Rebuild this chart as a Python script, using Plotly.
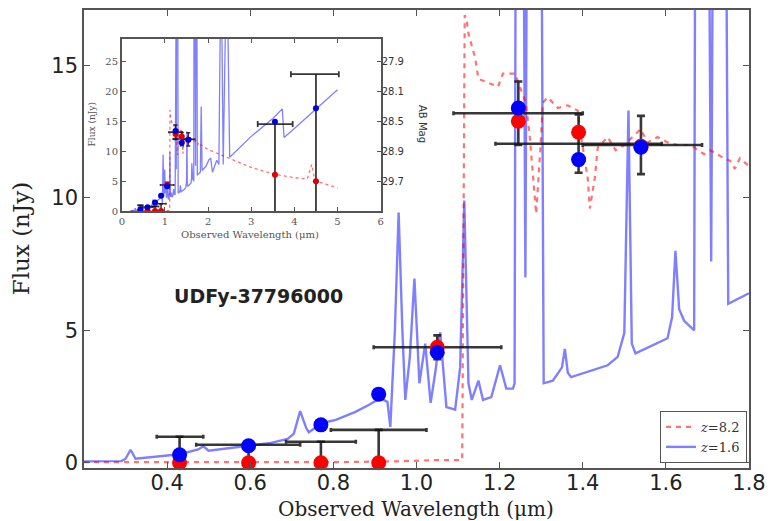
import plotly.graph_objects as go

# ---------------- data ----------------
# z=1.6 model spectrum (main panel, 0.2-1.8 um)
spec16_x = [0.20, 0.29, 0.30, 0.312, 0.324, 0.36, 0.40, 0.43, 0.475, 0.487, 0.50, 0.55, 0.59, 0.65,
            0.69, 0.705, 0.72, 0.735, 0.741, 0.773, 0.806, 0.853, 0.885, 0.913, 0.930, 0.937, 0.948,
            0.957, 0.966, 0.973, 0.984, 0.995, 1.007, 1.021, 1.034, 1.046, 1.057, 1.072, 1.093, 1.105,
            1.115, 1.125, 1.133, 1.149, 1.160, 1.180, 1.201, 1.216, 1.232, 1.236, 1.240, 1.255, 1.262,
            1.268, 1.298, 1.306, 1.328, 1.350, 1.357, 1.364, 1.372, 1.460, 1.484, 1.500, 1.510, 1.518,
            1.527, 1.604, 1.615, 1.623, 1.632, 1.644, 1.668, 1.672, 1.700, 1.709, 1.716, 1.742, 1.750,
            1.800]
spec16_y = [0.05, 0.06, 0.15, 0.49, 0.15, 0.20, 0.27, 0.32, 0.50, 0.62, 0.45, 0.55, 0.64, 0.75,
            0.90, 1.10, 1.95, 1.30, 1.15, 1.50, 1.62, 1.92, 2.18, 2.44, 2.30, 1.35, 5.0,
            9.45, 5.0, 2.37, 4.0, 6.96, 3.0, 4.5, 2.26, 3.5, 4.92, 2.1, 2.0, 3.6,
            9.9, 3.0, 2.37, 3.1, 2.37, 2.48, 3.68, 2.8, 2.8, 3.0, 30, 30, 7.0,
            30, 30, 3.0, 3.1, 3.6, 4.3, 3.4, 3.23, 3.68, 4.0, 4.9, 13.3, 4.5,
            4.13, 4.7, 5.5, 8.0, 5.8, 5.36, 5.0, 30, 30, 7.6, 30, 30, 6.0,
            6.4]
# z=1.6 spectrum continued beyond 1.8 um (inset only)
spec16_ext_x = [1.82, 1.84, 1.86, 1.95, 2.02, 2.06, 2.10, 2.20, 2.25, 2.28, 2.32, 2.35, 2.40, 2.46,
                2.50, 3.00, 3.50, 3.72, 3.76, 4.00, 4.50, 5.00]
spec16_ext_y = [6.5, 17.5, 6.8, 7.5, 8.6, 8.8, 6.5, 8.5, 7.8, 30, 30, 7.8, 30, 30,
                9.0, 12.5, 15.5, 17.1, 12.3, 13.8, 17.0, 20.3]

# z=8.2 model spectrum
spec82_x = [0.20, 0.80, 0.95, 1.00, 1.05, 1.110, 1.116, 1.120, 1.125, 1.141, 1.149, 1.165, 1.196,
            1.208, 1.237, 1.251, 1.263, 1.272, 1.288, 1.299, 1.304, 1.316, 1.340, 1.364, 1.388,
            1.395, 1.412, 1.417, 1.429, 1.436, 1.460, 1.479, 1.500, 1.539, 1.556, 1.580, 1.604,
            1.628, 1.659, 1.692, 1.707, 1.740, 1.755, 1.766, 1.778, 1.800]
spec82_y = [0.02, 0.02, 0.05, 0.08, 0.10, 0.10, 16.9, 16.8, 16.2, 15.3, 14.5, 14.4, 14.2,
            14.7, 14.7, 14.1, 13.6, 12.4, 9.4, 12.1, 13.6, 13.8, 13.4, 13.5, 13.3,
            12.4, 10.75, 9.6, 10.75, 11.9, 12.3, 11.8, 12.0, 12.6, 12.1, 12.3, 12.1,
            12.0, 12.0, 11.65, 11.8, 11.5, 11.4, 11.1, 11.5, 11.2]
spec82_ext_x = [2.00, 2.50, 3.00, 3.57, 4.00, 4.30, 4.40, 4.45, 4.50, 5.00]
spec82_ext_y = [10.3, 8.8, 7.3, 6.1, 5.6, 5.4, 7.8, 6.0, 5.0, 3.9]

# observed photometry (filters)
obs_x = [0.43, 0.596, 0.77, 0.909, 1.05, 1.245, 1.39, 1.54]
obs_xlo = [0.055, 0.126, 0.084, 0.115, 0.153, 0.156, 0.20, 0.14]
obs_xhi = [0.057, 0.124, 0.084, 0.115, 0.154, 0.155, 0.20, 0.147]
obs_y = [0.98, 0.68, 0.79, 1.24, 4.36, 13.2, 12.05, 12.0]
obs_eup = [0.0, 0.0, 0.0, 0.0, 0.45, 1.2, 1.1, 1.1]
obs_elo = [0.98, 0.68, 0.79, 1.24, 0.45, 1.2, 1.1, 1.1]

# IRAC points (inset only)
irac_x = [3.55, 4.5]
irac_xlo = [0.40, 0.58]
irac_xhi = [0.41, 0.53]
irac_y = [14.55, 22.9]

# model photometry
mod_x = [0.43, 0.596, 0.77, 0.909, 1.05, 1.245, 1.39, 1.54]
mod16_y = [0.30, 0.64, 1.43, 2.59, 4.17, 13.4, 11.45, 11.92]
mod82_y = [0.0, 0.0, 0.0, 0.0, 4.36, 12.9, 12.48, 11.95]
irac16_y = [14.95, 17.2]
irac82_y = [6.1, 5.0]

# inset right-axis (AB magnitude) labels
ab_flux = [25, 20, 15, 10, 5]
ab_labels = ["27.9", "28.1", "28.5", "28.9", "29.7"]

main_xticks = [0.4, 0.6, 0.8, 1.0, 1.2, 1.4, 1.6, 1.8]
main_yticks = [0, 5, 10, 15]
inset_xticks = [0, 1, 2, 3, 4, 5, 6]
inset_yticks = [0, 5, 10, 15, 20, 25]

# ---------------- layout helpers ----------------
W, H = 774, 521
L, R, T, B = 84, 22, 8, 53
PW, PH = W - L - R, H - T - B


def px(x):
    return (x - L) / PW


def py(y):
    return (H - B - y) / PH


BLUE_LINE = "rgba(0,0,255,0.5)"
RED_LINE = "rgba(255,0,0,0.55)"
BAR = "rgba(20,20,20,0.85)"
SERIF = "DejaVu Serif"
SANS = "DejaVu Sans"

fig = go.Figure()

# ---------- main panel ----------
fig.add_trace(go.Scatter(x=spec16_x, y=spec16_y, mode="lines", name="<i>z</i>=1.6",
                         line=dict(color=BLUE_LINE, width=2.4), legendrank=2))
fig.add_trace(go.Scatter(x=spec82_x, y=spec82_y, mode="lines", name="<i>z</i>=8.2",
                         line=dict(color=RED_LINE, width=2.2, dash="5px,5px"), legendrank=1))
fig.add_trace(go.Scatter(
    x=obs_x, y=obs_y, mode="markers", showlegend=False,
    marker=dict(size=2, color="rgba(0,0,0,0)"),
    error_x=dict(type="data", symmetric=False, array=obs_xhi, arrayminus=obs_xlo,
                 color=BAR, thickness=2.6, width=2),
    error_y=dict(type="data", symmetric=False, array=obs_eup, arrayminus=obs_elo,
                 color=BAR, thickness=2.6, width=4)))
fig.add_trace(go.Scatter(x=mod_x, y=mod82_y, mode="markers", showlegend=False,
                         marker=dict(size=15, color="#ff0000"), cliponaxis=False))
fig.add_trace(go.Scatter(x=mod_x, y=mod16_y, mode="markers", showlegend=False,
                         marker=dict(size=15, color="#0000ff"), cliponaxis=False))

# ---------- inset ----------
fig.add_trace(go.Scatter(x=spec16_x + spec16_ext_x, y=spec16_y + spec16_ext_y, mode="lines",
                         showlegend=False, xaxis="x2", yaxis="y2",
                         line=dict(color=BLUE_LINE, width=1.3)))
fig.add_trace(go.Scatter(x=spec82_x + spec82_ext_x, y=spec82_y + spec82_ext_y, mode="lines",
                         showlegend=False, xaxis="x2", yaxis="y2",
                         line=dict(color=RED_LINE, width=1.3, dash="3px,3px")))
fig.add_trace(go.Scatter(
    x=obs_x, y=obs_y, mode="markers", showlegend=False, xaxis="x2", yaxis="y2",
    marker=dict(size=1, color="rgba(0,0,0,0)"),
    error_x=dict(type="data", symmetric=False, array=obs_xhi, arrayminus=obs_xlo,
                 color=BAR, thickness=1.6, width=1),
    error_y=dict(type="data", symmetric=False, array=obs_eup, arrayminus=obs_elo,
                 color=BAR, thickness=1.6, width=2)))
fig.add_trace(go.Scatter(
    x=irac_x, y=irac_y, mode="markers", showlegend=False, xaxis="x2", yaxis="y2",
    marker=dict(size=1, color="rgba(0,0,0,0)"),
    error_x=dict(type="data", symmetric=False, array=irac_xhi, arrayminus=irac_xlo,
                 color=BAR, thickness=1.8, width=3),
    error_y=dict(type="data", symmetric=False, array=[0, 0], arrayminus=irac_y,
                 color=BAR, thickness=1.8, width=0)))
fig.add_trace(go.Scatter(x=mod_x + irac_x, y=mod82_y + irac82_y, mode="markers", showlegend=False,
                         xaxis="x2", yaxis="y2", marker=dict(size=6, color="#dd0000")))
fig.add_trace(go.Scatter(x=mod_x + irac_x, y=mod16_y + irac16_y, mode="markers", showlegend=False,
                         xaxis="x2", yaxis="y2", marker=dict(size=6, color="#0000dd")))
# invisible trace to activate the right-hand AB-mag axis
fig.add_trace(go.Scatter(x=[0], y=[0], mode="markers", showlegend=False, xaxis="x2", yaxis="y3",
                         marker=dict(size=1, color="rgba(0,0,0,0)"), hoverinfo="skip"))

axis_common = dict(showline=True, linecolor="#555", linewidth=1.5, ticks="inside",
                   mirror="ticks", showgrid=False, zeroline=False, tickcolor="#555")

fig.update_layout(
    width=W, height=H,
    margin=dict(l=L, r=R, t=T, b=B),
    paper_bgcolor="white", plot_bgcolor="white",
    xaxis=dict(range=[0.2, 1.8], tickvals=main_xticks,
               ticktext=[f"{v:.1f}" for v in main_xticks], ticklen=6, ticklabelstandoff=-5,
               tickfont=dict(family=SANS, size=21, color="#222"), domain=[0, 1],
               **axis_common),
    yaxis=dict(range=[-0.2, 17.1], tickvals=main_yticks, ticklen=6,
               tickfont=dict(family=SANS, size=21, color="#222"), domain=[0, 1],
               **axis_common),
    xaxis2=dict(domain=[px(122), px(382)], anchor="y2", range=[0, 6], tickvals=inset_xticks,
                ticklen=4, tickfont=dict(family=SERIF, size=10, color="#555"), **axis_common),
    yaxis2=dict(domain=[py(210), py(37)], anchor="x2", range=[0, 28.8], tickvals=inset_yticks,
                ticklen=4, tickfont=dict(family=SERIF, size=10, color="#555"),
                showline=True, linecolor="#555", linewidth=1.5, ticks="inside",
                mirror=True, showgrid=False, zeroline=False, tickcolor="#555"),
    yaxis3=dict(domain=[py(210), py(37)], anchor="x2", overlaying="y2", side="right",
                range=[0, 28.8], tickvals=ab_flux, ticktext=ab_labels, ticks="inside",
                ticklen=4, tickcolor="#555", showgrid=False, zeroline=False, showline=False,
                tickfont=dict(family=SANS, size=10, color="#333")),
    legend=dict(x=px(750), y=py(463), xanchor="right", yanchor="bottom",
                bgcolor="white", bordercolor="#555", borderwidth=1,
                font=dict(family=SERIF, size=13, color="#333"), itemwidth=30,
                tracegroupgap=0),
    showlegend=True,
)

annotations = [
    dict(x=px(259), y=py(295), text="<b>UDFy-37796000</b>",
         font=dict(family=SANS, size=19, color="#222")),
    dict(x=px(417), y=py(509), text="Observed Wavelength (μm)",
         font=dict(family=SERIF, size=20, color="#222")),
    dict(x=px(21), y=py(238), text="Flux (nJy)", textangle=-90,
         font=dict(family=SERIF, size=23, color="#222")),
    dict(x=px(251), y=py(233), text="Observed Wavelength (μm)",
         font=dict(family=SERIF, size=10, color="#555")),
    dict(x=px(92), y=py(123), text="Flux (nJy)", textangle=-90,
         font=dict(family=SERIF, size=9, color="#555")),
    dict(x=px(424), y=py(123), text="AB Mag", textangle=90,
         font=dict(family=SANS, size=10, color="#333")),
]
for a in annotations:
    a.update(xref="paper", yref="paper", showarrow=False, xanchor="center", yanchor="middle")
fig.update_layout(annotations=annotations)

fig.write_html("out.html")
